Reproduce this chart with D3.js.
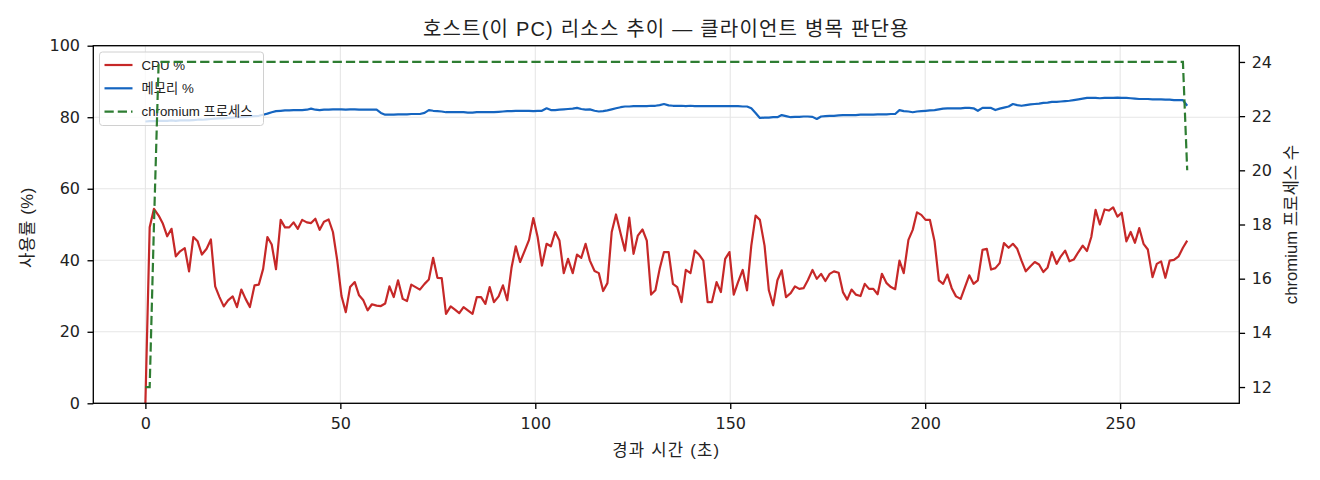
<!DOCTYPE html>
<html>
<head>
<meta charset="utf-8">
<script src="https://cdn.jsdelivr.net/npm/d3@7/dist/d3.min.js"></script>
<style>
  body { margin: 0; background: #fff; }
  svg text { font-family: "Liberation Sans", "Noto Sans CJK KR", sans-serif; fill: #222; }
</style>
</head>
<body>
<svg id="chart" width="1320" height="480"></svg>
<script>
// elapsed seconds for each sample
const elapsed = [
  0.0, 1.1, 2.2, 3.4, 4.5, 5.6, 6.7, 7.8, 8.9, 10.1, 11.2, 12.3, 13.4, 14.5, 15.7, 16.8, 17.9, 19.0, 20.1, 21.2,
  22.4, 23.5, 24.6, 25.7, 26.8, 28.0, 29.1, 30.2, 31.3, 32.4, 33.5, 34.7, 35.8, 36.9, 38.0, 39.1, 40.2, 41.4, 42.5, 43.6,
  44.7, 45.8, 47.0, 48.1, 49.2, 50.3, 51.4, 52.5, 53.7, 54.8, 55.9, 57.0, 58.1, 59.3, 60.4, 61.5, 62.6, 63.7, 64.8, 66.0,
  67.1, 68.2, 69.3, 70.4, 71.6, 72.7, 73.8, 74.9, 76.0, 77.1, 78.3, 79.4, 80.5, 81.6, 82.7, 83.9, 85.0, 86.1, 87.2, 88.3,
  89.4, 90.6, 91.7, 92.8, 93.9, 95.0, 96.1, 97.3, 98.4, 99.5, 100.6, 101.7, 102.9, 104.0, 105.1, 106.2, 107.3, 108.4, 109.6, 110.7,
  111.8, 112.9, 114.0, 115.2, 116.3, 117.4, 118.5, 119.6, 120.7, 121.9, 123.0, 124.1, 125.2, 126.3, 127.5, 128.6, 129.7, 130.8, 131.9, 133.0,
  134.2, 135.3, 136.4, 137.5, 138.6, 139.8, 140.9, 142.0, 143.1, 144.2, 145.3, 146.5, 147.6, 148.7, 149.8, 150.9, 152.0, 153.2, 154.3, 155.4,
  156.5, 157.6, 158.8, 159.9, 161.0, 162.1, 163.2, 164.3, 165.5, 166.6, 167.7, 168.8, 169.9, 171.1, 172.2, 173.3, 174.4, 175.5, 176.6, 177.8,
  178.9, 180.0, 181.1, 182.2, 183.4, 184.5, 185.6, 186.7, 187.8, 188.9, 190.1, 191.2, 192.3, 193.4, 194.5, 195.7, 196.8, 197.9, 199.0, 200.1,
  201.2, 202.4, 203.5, 204.6, 205.7, 206.8, 207.9, 209.1, 210.2, 211.3, 212.4, 213.5, 214.7, 215.8, 216.9, 218.0, 219.1, 220.2, 221.4, 222.5,
  223.6, 224.7, 225.8, 227.0, 228.1, 229.2, 230.3, 231.4, 232.5, 233.7, 234.8, 235.9, 237.0, 238.1, 239.3, 240.4, 241.5, 242.6, 243.7, 244.8,
  246.0, 247.1, 248.2, 249.3, 250.4, 251.6, 252.7, 253.8, 254.9, 256.0, 257.1, 258.3, 259.4, 260.5, 261.6, 262.7, 263.8, 265.0, 266.1, 267.2
];

const cpu = [
  0, 49.2, 54.4, 52.5, 50.2, 46.7, 48.8, 41.1, 42.5, 43.4, 36.9, 46.5, 45.3, 41.6, 43.2, 45.8, 32.7, 29.7, 27.1, 28.8,
  29.9, 26.9, 31.8, 29.2, 26.9, 33.0, 33.2, 37.6, 46.5, 44.4, 37.5, 51.3, 49.2, 49.2, 50.6, 48.8, 51.3, 50.6, 50.4, 51.6,
  48.5, 50.8, 51.4, 47.9, 40.0, 30.0, 25.5, 32.5, 33.9, 30.2, 28.8, 26.0, 27.7, 27.3, 27.2, 27.9, 32.7, 29.7, 34.4, 29.2,
  28.6, 33.2, 32.5, 31.8, 33.4, 34.6, 40.7, 35.1, 35.0, 25.0, 27.1, 26.2, 25.2, 26.9, 26.0, 25.0, 29.7, 29.7, 27.8, 32.5,
  28.3, 29.9, 33.0, 28.8, 37.9, 43.9, 39.5, 42.7, 45.7, 51.8, 46.5, 38.5, 44.6, 43.9, 47.9, 45.5, 36.4, 40.4, 36.4, 41.6,
  40.7, 44.6, 39.9, 37.0, 36.4, 31.4, 33.6, 47.9, 52.8, 47.4, 42.7, 51.9, 41.8, 46.9, 48.6, 45.5, 30.4, 31.6, 37.6, 42.3,
  42.3, 33.4, 32.5, 28.3, 37.3, 36.4, 42.7, 41.6, 39.9, 28.3, 28.3, 33.9, 31.1, 40.4, 42.3, 30.4, 33.9, 37.3, 31.6, 44.1,
  52.5, 51.3, 44.1, 31.6, 27.4, 34.4, 37.2, 29.7, 30.8, 32.7, 32.0, 32.2, 34.4, 37.3, 34.8, 36.2, 34.2, 36.2, 36.9, 36.5,
  31.1, 29.0, 31.8, 30.4, 30.0, 33.4, 32.0, 32.0, 30.5, 36.2, 33.6, 32.5, 31.9, 39.9, 36.4, 45.7, 48.5, 53.4, 52.7, 51.3,
  51.3, 45.3, 34.4, 33.4, 36.0, 32.2, 29.9, 29.2, 32.5, 35.8, 33.4, 34.4, 42.9, 43.2, 37.4, 37.8, 39.2, 44.8, 43.5, 44.6,
  43.2, 39.9, 36.9, 38.3, 39.5, 38.8, 36.7, 38.0, 42.3, 39.0, 41.1, 42.7, 39.7, 40.2, 42.3, 44.1, 42.6, 46.5, 54.1, 50.0,
  54.2, 53.9, 54.8, 52.2, 53.3, 45.3, 47.9, 44.9, 49.0, 44.6, 43.0, 35.3, 39.0, 39.7, 35.1, 39.9, 40.1, 41.1, 43.5, 45.5
];

const mem = [
  78.8, 78.9, 78.9, 79.0, 79.0, 79.0, 79.1, 79.0, 79.1, 79.1, 79.1, 79.2, 79.3, 79.3, 79.4, 79.5, 79.6, 79.7, 79.7, 79.8,
  79.9, 80.0, 80.0, 80.1, 80.2, 80.3, 80.4, 80.7, 81.0, 81.4, 81.7, 81.8, 81.9, 81.9, 82.0, 82.0, 82.0, 82.1, 82.4, 82.1,
  82.0, 82.1, 82.1, 82.2, 82.2, 82.2, 82.1, 82.2, 82.2, 82.1, 82.1, 82.1, 82.1, 82.1, 81.2, 80.7, 80.7, 80.7, 80.8, 80.8,
  80.8, 80.9, 80.9, 80.9, 81.2, 82.0, 81.8, 81.7, 81.6, 81.4, 81.4, 81.4, 81.4, 81.4, 81.3, 81.3, 81.4, 81.4, 81.4, 81.4,
  81.4, 81.5, 81.6, 81.7, 81.7, 81.8, 81.8, 81.8, 81.8, 81.7, 81.8, 81.8, 82.5, 82.0, 82.0, 82.1, 82.2, 82.3, 82.4, 82.6,
  82.3, 82.1, 82.2, 81.8, 81.6, 81.7, 81.9, 82.2, 82.5, 82.8, 83.0, 83.0, 83.1, 83.1, 83.1, 83.1, 83.2, 83.2, 83.4, 83.7,
  83.3, 83.2, 83.2, 83.2, 83.1, 83.2, 83.1, 83.1, 83.1, 83.1, 83.1, 83.1, 83.1, 83.1, 83.1, 83.1, 83.1, 83.0, 83.0, 82.5,
  81.2, 79.8, 79.9, 79.9, 80.0, 80.0, 80.6, 80.3, 80.0, 80.1, 80.1, 80.2, 80.2, 80.1, 79.5, 80.2, 80.3, 80.4, 80.4, 80.5,
  80.6, 80.6, 80.6, 80.6, 80.7, 80.7, 80.7, 80.7, 80.8, 80.8, 80.8, 80.9, 80.9, 82.0, 81.7, 81.6, 81.4, 81.6, 81.7, 81.8,
  81.9, 82.0, 82.2, 82.4, 82.5, 82.5, 82.5, 82.5, 82.6, 82.6, 82.5, 81.8, 82.6, 82.6, 82.6, 82.0, 82.4, 82.7, 83.0, 83.7,
  83.4, 83.2, 83.4, 83.6, 83.7, 83.8, 84.0, 84.1, 84.3, 84.3, 84.4, 84.5, 84.6, 84.8, 85.0, 85.2, 85.4, 85.4, 85.4, 85.3,
  85.4, 85.4, 85.4, 85.5, 85.4, 85.4, 85.3, 85.2, 85.1, 85.1, 85.1, 85.0, 85.0, 85.0, 84.9, 84.9, 84.8, 84.8, 84.8, 83.2
];

const procs = [
  12, 12, 18, 24, 24, 24, 24, 24, 24, 24, 24, 24, 24, 24, 24, 24, 24, 24, 24, 24,
  24, 24, 24, 24, 24, 24, 24, 24, 24, 24, 24, 24, 24, 24, 24, 24, 24, 24, 24, 24,
  24, 24, 24, 24, 24, 24, 24, 24, 24, 24, 24, 24, 24, 24, 24, 24, 24, 24, 24, 24,
  24, 24, 24, 24, 24, 24, 24, 24, 24, 24, 24, 24, 24, 24, 24, 24, 24, 24, 24, 24,
  24, 24, 24, 24, 24, 24, 24, 24, 24, 24, 24, 24, 24, 24, 24, 24, 24, 24, 24, 24,
  24, 24, 24, 24, 24, 24, 24, 24, 24, 24, 24, 24, 24, 24, 24, 24, 24, 24, 24, 24,
  24, 24, 24, 24, 24, 24, 24, 24, 24, 24, 24, 24, 24, 24, 24, 24, 24, 24, 24, 24,
  24, 24, 24, 24, 24, 24, 24, 24, 24, 24, 24, 24, 24, 24, 24, 24, 24, 24, 24, 24,
  24, 24, 24, 24, 24, 24, 24, 24, 24, 24, 24, 24, 24, 24, 24, 24, 24, 24, 24, 24,
  24, 24, 24, 24, 24, 24, 24, 24, 24, 24, 24, 24, 24, 24, 24, 24, 24, 24, 24, 24,
  24, 24, 24, 24, 24, 24, 24, 24, 24, 24, 24, 24, 24, 24, 24, 24, 24, 24, 24, 24,
  24, 24, 24, 24, 24, 24, 24, 24, 24, 24, 24, 24, 24, 24, 24, 24, 24, 24, 24, 20
];

const xTicks = [0, 50, 100, 150, 200, 250];
const yTicks = [0, 20, 40, 60, 80, 100];
const y2Ticks = [12, 14, 16, 18, 20, 22, 24];

const seriesNames = ["CPU %", "메모리 %", "chromium 프로세스"];
const titleText = "호스트(이 PC) 리소스 추이 — 클라이언트 병목 판단용";

const colCpu = "#c62828", colMem = "#1565c0", colProc = "#2e7d32";
const dashed = "9.25,4";

const pL = 93.3, pR = 1239.3, pT = 45.7, pB = 403.3;

const svg = d3.select("#chart");

// matplotlib-ish 5% margins
const xPad = (d3.max(elapsed) - d3.min(elapsed)) * 0.05;
const x = d3.scaleLinear().domain([d3.min(elapsed) - xPad, d3.max(elapsed) + xPad]).range([pL, pR]);
const y = d3.scaleLinear().domain([0, 100]).range([pB, pT]);
const pPad = (d3.max(procs) - d3.min(procs)) * 0.05;
const y2 = d3.scaleLinear().domain([d3.min(procs) - pPad, d3.max(procs) + pPad]).range([pB, pT]);

// grid
const grid = svg.append("g").attr("stroke", "#e6e6e6").attr("stroke-width", 1.1);
xTicks.forEach(t => grid.append("line").attr("x1", x(t)).attr("x2", x(t)).attr("y1", pT).attr("y2", pB));
yTicks.forEach(t => grid.append("line").attr("x1", pL).attr("x2", pR).attr("y1", y(t)).attr("y2", y(t)));

const idx = d3.range(elapsed.length);

const lineCpu = d3.line().x(i => x(elapsed[i])).y(i => y(cpu[i]));
const lineMem = d3.line().x(i => x(elapsed[i])).y(i => y(mem[i]));
const lineProc = d3.line().x(i => x(elapsed[i])).y(i => y2(procs[i]));

svg.append("path").datum(idx).attr("d", lineCpu)
  .attr("fill", "none").attr("stroke", colCpu).attr("stroke-width", 2.2).attr("stroke-linejoin", "round");
svg.append("path").datum(idx).attr("d", lineMem)
  .attr("fill", "none").attr("stroke", colMem).attr("stroke-width", 2.2).attr("stroke-linejoin", "round");

// legend (drawn on the first axes, so the dashed line goes over it)
const lg = svg.append("g");
lg.append("rect").attr("x", 99.5).attr("y", 52).attr("width", 164).attr("height", 73.5)
  .attr("rx", 3).attr("fill", "#fff").attr("fill-opacity", 0.8)
  .attr("stroke", "#d0d0d0").attr("stroke-width", 1);
const legendStyles = [
  { c: colCpu, dash: null },
  { c: colMem, dash: null },
  { c: colProc, dash: dashed }
];
seriesNames.forEach((name, i) => {
  const ly = 65 + i * 23.3;
  lg.append("line").attr("x1", 104.5).attr("x2", 132.5).attr("y1", ly).attr("y2", ly)
    .attr("stroke", legendStyles[i].c).attr("stroke-width", 2.2)
    .attr("stroke-dasharray", legendStyles[i].dash);
  lg.append("text").attr("x", 141.5).attr("y", ly).attr("dy", "0.35em")
    .attr("font-size", 13.3).text(name);
});

svg.append("path").datum(idx).attr("d", lineProc)
  .attr("fill", "none").attr("stroke", colProc).attr("stroke-width", 2.2)
  .attr("stroke-dasharray", dashed);

// axes
const ax = svg.append("g").attr("transform", `translate(0,${pB})`)
  .call(d3.axisBottom(x).tickValues(xTicks).tickSize(5.8).tickPadding(9).tickFormat(d3.format("d")));
const ayl = svg.append("g").attr("transform", `translate(${pL},0)`)
  .call(d3.axisLeft(y).tickValues(yTicks).tickSize(5.8).tickPadding(7.5).tickFormat(d3.format("d")));
const ayr = svg.append("g").attr("transform", `translate(${pR},0)`)
  .call(d3.axisRight(y2).tickValues(y2Ticks).tickSize(5.8).tickPadding(6.6).tickFormat(d3.format("d")));
[ax, ayl, ayr].forEach(g => {
  g.select(".domain").remove();
  g.selectAll(".tick line").attr("stroke", "#000").attr("stroke-width", 1.33);
  g.selectAll(".tick text").attr("font-size", 16).attr("fill", "#222")
    .style("font-family", '"DejaVu Sans", sans-serif');
});

// frame
svg.append("rect").attr("x", pL).attr("y", pT).attr("width", pR - pL).attr("height", pB - pT)
  .attr("fill", "none").attr("stroke", "#000").attr("stroke-width", 1.33);

// labels
svg.append("text").attr("x", (pL + pR) / 2).attr("y", 29).attr("dy", "0.35em")
  .attr("text-anchor", "middle").attr("font-size", 20).attr("letter-spacing", 1.2).text(titleText);
svg.append("text").attr("x", (pL + pR) / 2).attr("y", 450).attr("dy", "0.35em")
  .attr("text-anchor", "middle").attr("font-size", 16.7).attr("letter-spacing", 1.2).text("경과 시간 (초)");
svg.append("text").attr("transform", `translate(27,${(pT + pB) / 2 + 3}) rotate(-90)`).attr("dy", "0.35em")
  .attr("text-anchor", "middle").attr("font-size", 16.7).attr("letter-spacing", 0.6).text("사용률 (%)");
svg.append("text").attr("transform", `translate(1291,${(pT + pB) / 2}) rotate(-90)`).attr("dy", "0.35em")
  .attr("text-anchor", "middle").attr("font-size", 16.7).text("chromium 프로세스 수");
</script>
</body>
</html>
